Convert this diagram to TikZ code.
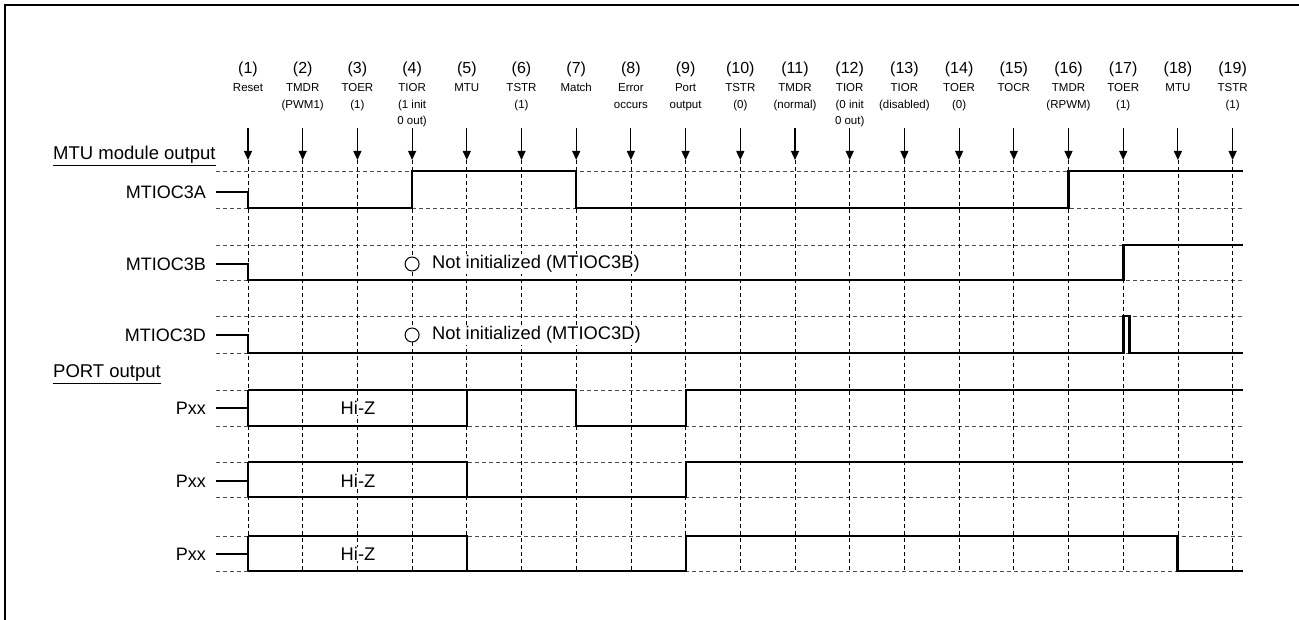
\documentclass[tikz,border=0pt]{standalone}
\usepackage{fontspec}
\setmainfont{Liberation Sans}
\usetikzlibrary{arrows.meta,calc}
\tikzset{
  grid/.style={draw=black!70, line width=0.9pt, dash pattern=on 4pt off 3pt},
  vgrid/.style={draw=black, line width=0.8pt, dash pattern=on 4pt off 3pt},
  wave/.style={draw=black, line width=2.4pt, line join=miter},
  evarrow/.style={draw=black, line width=1.1pt, -{Triangle[width=8pt,length=9pt]}},
  siglabel/.style={anchor=east, inner sep=0pt, font=\fontsize{18}{21}\selectfont},
  hdrnum/.style={anchor=base, inner sep=0pt, font=\fontsize{16}{18}\selectfont},
  hdrtxt/.style={anchor=base, inner sep=0pt, font=\fontsize{11.5}{16.5}\selectfont},
  note/.style={anchor=west, inner sep=0pt, font=\fontsize{18.3}{21}\selectfont},
  sect/.style={anchor=west, inner sep=0pt, font=\fontsize{18.5}{21}\selectfont},
  frame/.style={draw=black, line width=2pt}
}
\begin{document}
\begin{tikzpicture}[x=1pt,y=-1pt]
\useasboundingbox (0,0) rectangle (1299,620);
% frame (only top and left visible)
\draw[frame] (5,625) -- (5,5) -- (1305,5);

% event coordinates
\foreach \i in {1,...,19}{
  \pgfmathsetmacro{\ex}{248+(\i-1)*54.7}
  \coordinate (t\i) at (\ex,128);
  \coordinate (e\i) at (\ex,160);
  \coordinate (b\i) at (\ex,571);
}

% horizontal grid lines
\foreach \yy in {171,208,245,280,316,353,390,426,462,497,536,571}{
  \draw[grid] (216,\yy) -- (1243,\yy);
}
% vertical grid lines
\foreach \i in {1,...,19}{
  \draw[vgrid] (e\i) -- (b\i);
}

% header
\foreach \i/\t in {1/Reset, 2/{TMDR\\(PWM1)}, 3/{TOER\\(1)}, 4/{TIOR\\(1 init\\0 out)}, 5/MTU,
  6/{TSTR\\(1)}, 7/Match, 8/{Error\\occurs}, 9/{Port\\output}, 10/{TSTR\\(0)},
  11/{TMDR\\(normal)}, 12/{TIOR\\(0 init\\0 out)}, 13/{TIOR\\(disabled)}, 14/{TOER\\(0)},
  15/TOCR, 16/{TMDR\\(RPWM)}, 17/{TOER\\(1)}, 18/MTU, 19/{TSTR\\(1)}}{
  \node[hdrnum] (n\i) at ($(t\i)+(0,-54)$) {(\i)};
  \node[hdrtxt] (h\i) at ($(t\i)+(0,-36)$) {\begin{tabular}[t]{@{}c@{}}\t\end{tabular}};
  \draw[evarrow] (t\i) -- (e\i);
}

% section labels
\node[sect] (mtuout) at (53,156) {\underline{MTU module output}};
\node[sect] (portout) at (53,374) {\underline{PORT output}};

% signal labels
\node[siglabel] (la) at (206,192) {MTIOC3A};
\node[siglabel] (lb) at (206,264) {MTIOC3B};
\node[siglabel] (ld) at (206,335) {MTIOC3D};
\node[siglabel] (lp1) at (206,408) {Pxx};
\node[siglabel] (lp2) at (206,481) {Pxx};
\node[siglabel] (lp3) at (206,554) {Pxx};

% MTIOC3A
\draw[wave] (216,192) -- (248,192) -- (248,208) -- (412.1,208) -- (412.1,171) -- (576.2,171) -- (576.2,208) -- (1068.5,208) -- (1068.5,171) -- (1243,171);
% MTIOC3B
\draw[wave] (216,264) -- (248,264) -- (248,280) -- (1123.3,280) -- (1123.3,245) -- (1243,245);
% MTIOC3D
\draw[wave] (216,335) -- (248,335) -- (248,353) -- (1123.3,353) -- (1123.3,316) -- (1129.5,316) -- (1129.5,353) -- (1243,353);

% Pxx 1
\draw[wave] (216,408) -- (248,408);
\draw[wave] (248,390) -- (248,426);
\draw[wave] (248,390) -- (576.2,390) -- (576.2,426) -- (685.8,426) -- (685.8,390) -- (1243,390);
\draw[wave] (248,426) -- (466.8,426) -- (466.8,390);
% Pxx 2
\draw[wave] (216,481) -- (248,481);
\draw[wave] (248,462) -- (248,497);
\draw[wave] (248,462) -- (466.8,462) -- (466.8,497);
\draw[wave] (248,497) -- (685.8,497) -- (685.8,462) -- (1243,462);
% Pxx 3
\draw[wave] (216,554) -- (248,554);
\draw[wave] (248,536) -- (248,571);
\draw[wave] (248,536) -- (466.8,536) -- (466.8,571);
\draw[wave] (248,571) -- (685.8,571) -- (685.8,536) -- (1177.6,536) -- (1177.6,571) -- (1243,571);

% Hi-Z labels
\node[note, anchor=center, fill=white, inner sep=0.5pt] (hz1) at (358,408) {Hi-Z};
\node[note, anchor=center, fill=white, inner sep=0.5pt] (hz2) at (358,481) {Hi-Z};
\node[note, anchor=center, fill=white, inner sep=0.5pt] (hz3) at (358,554) {Hi-Z};

% not initialized notes
\node[circle, draw, line width=1pt, fill=white, minimum size=14pt, inner sep=0pt] (cb) at (412.1,264) {};
\node[note, fill=white, inner sep=1pt] (nb) at (431,264) {Not initialized (MTIOC3B)};
\node[circle, draw, line width=1pt, fill=white, minimum size=14pt, inner sep=0pt] (cd) at (412.1,335) {};
\node[note, fill=white, inner sep=1pt] (nd) at (431,335) {Not initialized (MTIOC3D)};
\end{tikzpicture}
\end{document}
